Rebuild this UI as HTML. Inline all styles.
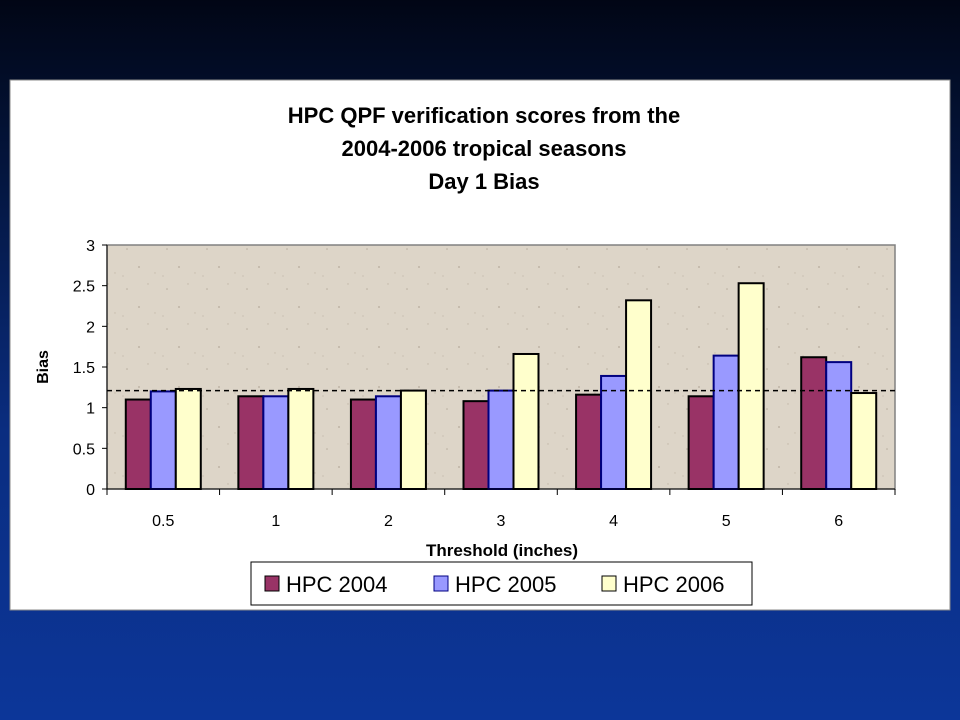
<!DOCTYPE html>
<html><head><meta charset="utf-8"><style>
html,body{margin:0;padding:0;}
body{width:960px;height:720px;overflow:hidden;background:linear-gradient(180deg,#010615 0%,#041640 25%,#0a2d80 60%,#0c3699 100%);font-family:"Liberation Sans",Arial,sans-serif;}
svg{position:absolute;left:0;top:0;}
</style></head><body>
<svg width="960" height="720">
<defs>
<pattern id="spk" width="40" height="40" patternUnits="userSpaceOnUse">
<rect width="40" height="40" fill="#ddd5c8"/>
<circle cx="7" cy="9" r="0.8" fill="#b8ae9e"/><circle cx="28" cy="4" r="0.7" fill="#c2b8a8"/>
<circle cx="19" cy="27" r="0.9" fill="#b5ab9b"/><circle cx="35" cy="33" r="0.7" fill="#c7bdad"/>
<circle cx="3" cy="36" r="0.6" fill="#bdb3a3"/>
</pattern>
</defs>
<rect x="10" y="80" width="940" height="530" fill="#fff" stroke="#8a8a8a"/>
<g font-weight="bold" font-size="22" text-anchor="middle" fill="#000">
<text x="484" y="123">HPC QPF verification scores from the</text>
<text x="484" y="156">2004-2006 tropical seasons</text>
<text x="484" y="189">Day 1 Bias</text>
</g>
<rect x="107" y="245" width="788" height="244" fill="url(#spk)" stroke="#808080" stroke-width="1.5"/>
<g id="axes"></g>
<g id="bars"></g>
<text transform="translate(48,367) rotate(-90)" text-anchor="middle" font-weight="bold" font-size="16">Bias</text>
<text x="502" y="556" text-anchor="middle" font-weight="bold" font-size="17">Threshold (inches)</text>
<g>
<rect x="251" y="562" width="501" height="43" fill="#fff" stroke="#000"/>
<g><rect x="265" y="576" width="14" height="15" fill="#993366" stroke="#000"/><text x="286" y="592" font-size="22">HPC 2004</text></g>
<g><rect x="434" y="576" width="14" height="15" fill="#9999ff" stroke="#000080"/><text x="455" y="592" font-size="22">HPC 2005</text></g>
<g><rect x="602" y="576" width="14" height="15" fill="#ffffcc" stroke="#000"/><text x="623" y="592" font-size="22">HPC 2006</text></g>
</g>
</svg>
<script>
const categories = ["0.5","1","2","3","4","5","6"];
const hpc2004 = [1.10,1.14,1.10,1.08,1.16,1.14,1.62];
const hpc2005 = [1.20,1.14,1.14,1.21,1.39,1.64,1.56];
const hpc2006 = [1.23,1.23,1.21,1.66,2.32,2.53,1.18];
const yTicks = [0,0.5,1,1.5,2,2.5,3];
const refLine = 1.21;

const NS="http://www.w3.org/2000/svg";
const x0=107,x1=895,yTop=245,yBot=489,yMax=3;
const bw=(x1-x0)/categories.length;
const y=v=>yBot-(v/yMax)*(yBot-yTop);
const axes=document.getElementById('axes'), bars=document.getElementById('bars');
function mk(tag,at,parent){const e=document.createElementNS(NS,tag);for(const k in at)e.setAttribute(k,at[k]);parent.appendChild(e);return e;}
yTicks.forEach(t=>{
  const l=mk('line',{x1:x0-5,x2:x0,y1:y(t),y2:y(t),stroke:'#000'},axes);
  
  
  const tx=mk('text',{x:x0-12,y:y(t)+6,'text-anchor':'end','font-size':'16'},axes);
  tx.textContent=String(t);
  
  
});
for(let i=0;i<=categories.length;i++){
  const l=mk('line',{x1:x0+i*bw,x2:x0+i*bw,y1:yBot,y2:yBot+6,stroke:'#000'},axes);
  
  
}
categories.forEach((c,i)=>{
  const tx=mk('text',{x:x0+(i+0.5)*bw,y:yBot+37,'text-anchor':'middle','font-size':'16'},axes);
  tx.textContent=c;
  
  
});
const series=[[hpc2004,'#993366','#000','bar-2004'],[hpc2005,'#9999ff','#000080','bar-2005'],[hpc2006,'#ffffcc','#000','bar-2006']];
const barW=25;
categories.forEach((c,i)=>{
  const cx=x0+(i+0.5)*bw;
  series.forEach((s,j)=>{
    const v=s[0][i];
    const r=mk('rect',{x:cx-1.5*barW+j*barW,y:y(v),width:barW,height:yBot-y(v),fill:s[1],stroke:s[2],'stroke-width':'2'},bars);
    
    
  });
});
const dl=mk('line',{x1:x0,x2:x1,y1:y(refLine),y2:y(refLine),stroke:'#000','stroke-width':'1.5','stroke-dasharray':'5,4'},bars);


mk('line',{x1:x0,x2:x0,y1:yTop,y2:yBot,stroke:'#000'},axes);
mk('line',{x1:x0,x2:x1,y1:yBot,y2:yBot,stroke:'#000'},bars);
</script>
</body></html>
